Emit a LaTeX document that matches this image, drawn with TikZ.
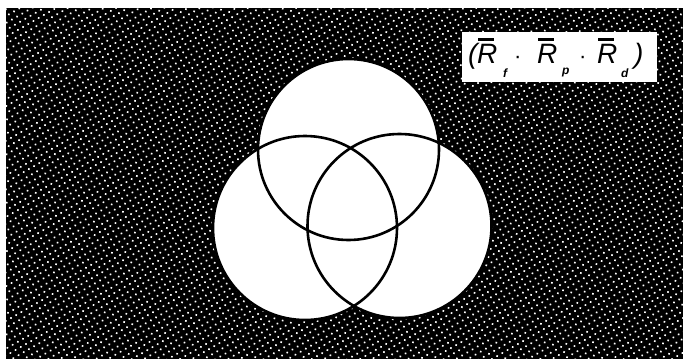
\documentclass[tikz,border=0pt]{standalone}
\usepackage{fontspec}
\setmainfont{Liberation Sans}
\usetikzlibrary{patterns.meta}
\begin{document}
\begin{tikzpicture}[x=1pt,y=-1pt,
  venn/.style={draw=black,line width=2.6pt},
  big/.style={inner sep=0pt,anchor=base west,font=\fontsize{28}{28}\selectfont\itshape},
  sub/.style={inner sep=0pt,anchor=base west,font=\fontsize{12}{12}\selectfont\itshape\bfseries},
  dotc/.style={inner sep=0pt,anchor=base west,font=\fontsize{22}{22}\selectfont}]
\useasboundingbox (0,0) rectangle (683,359);
\fill[white] (0,0) rectangle (683,359);
\fill[black] (6,8) rectangle (683,359);
\fill[pattern={Dots[distance=6pt,radius=1.15pt,angle=30]},pattern color=white] (6,8) rectangle (683,359);
% circles
\fill[white] (348.5,149.5) circle (90.5);
\fill[white] (305,228) circle (92);
\fill[white] (399.5,226) circle (92);
\draw[venn] (348.5,149.5) circle (90.5);
\draw[venn] (305,228) circle (92);
\draw[venn] (399.5,226) circle (92);
% label box
\fill[white] (462,32) rectangle (657,82);
\newcommand\barR{\rlap{\kern1pt\rule[22.5pt]{16pt}{2.5pt}}R}
\node[big] (lp) at (468,63) {(};
\node[big] (r1) at (477,63) {\barR};
\node[sub] (s1) at (503,77) {f};
\node[dotc] (d1) at (514,63) {·};
\node[big] (r2) at (537,63) {\barR};
\node[sub] (s2) at (562,74) {p};
\node[dotc] (d2) at (579,63) {·};
\node[big] (r3) at (597,63) {\barR};
\node[sub] (s3) at (621,77) {d};
\node[big] (rp) at (634,63) {)};
\end{tikzpicture}
\end{document}
